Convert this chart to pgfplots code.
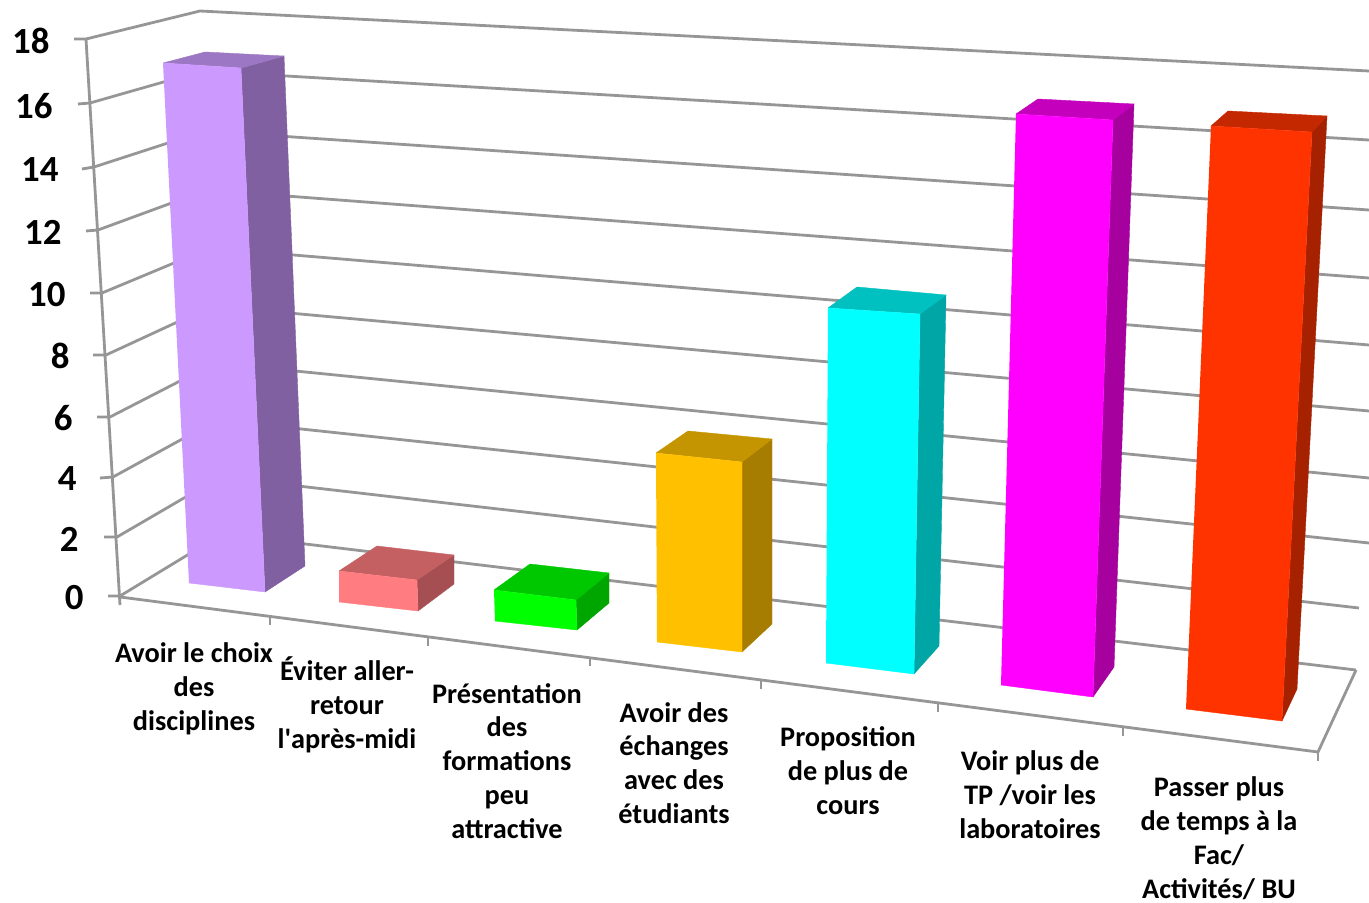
\documentclass[border=0pt]{standalone}
\usepackage{pgfplots}
\pgfplotsset{compat=1.18}
\usepackage{fontspec}
\setmainfont{Carlito}

\definecolor{grid}{HTML}{969696}
\definecolor{aside}{HTML}{8060A0}
\definecolor{atop}{HTML}{9C77C4}
\definecolor{afront}{HTML}{CC99FF}
\definecolor{bside}{HTML}{A54F52}
\definecolor{btop}{HTML}{C56062}
\definecolor{bfront}{HTML}{FF7C80}
\definecolor{cside}{HTML}{00A600}
\definecolor{ctop}{HTML}{00C800}
\definecolor{cfront}{HTML}{00FF00}
\definecolor{dside}{HTML}{A67D00}
\definecolor{dtop}{HTML}{C49500}
\definecolor{dfront}{HTML}{FFC000}
\definecolor{eside}{HTML}{00A6A6}
\definecolor{etop}{HTML}{00C0C0}
\definecolor{efront}{HTML}{00FFFF}
\definecolor{fside}{HTML}{A6009F}
\definecolor{ftop}{HTML}{C400BC}
\definecolor{ffront}{HTML}{FF00FF}
\definecolor{gside}{HTML}{A62100}
\definecolor{gtop}{HTML}{C42800}
\definecolor{gfront}{HTML}{FF3300}

% one flat polygon of the perspective drawing, in picture pixels
\newcommand{\face}[2]{\addplot[fill=#1,draw=#1,line width=0.2bp] coordinates {#2};}
\newcommand{\gline}[1]{\addplot[color=grid,line width=1.4bp] coordinates {#1};}
\newcommand{\ylab}[3]{\node[anchor=east,font=\fontsize{18.5}{20}\selectfont\bfseries,inner sep=0pt] at (axis cs:#1,#2) {#3};}
\newcommand{\xlab}[3]{\node[anchor=center,align=center,font=\fontsize{14.2}{17}\selectfont\bfseries,inner sep=0pt] at (axis cs:#1,#2) {#3};}

\begin{document}
\begin{tikzpicture}
\begin{axis}[
    scale only axis,
    width=684.5bp, height=451.5bp,
    xmin=0, xmax=1369, ymin=0, ymax=903,
    y dir=reverse,
    hide axis
]

% keeps the whole frame in the bounding box
\path (axis cs:0,0) rectangle (axis cs:1369,903);

% gridlines: tick, left wall, back wall
\gline{(74,39)(86,39)(200,11)(1369,71)}
\gline{(78,104)(90,103)(202,71)(1369,140)}
\gline{(82,169)(94,167)(205,131)(1369,210)}
\gline{(86,231)(98,230)(207,190)(1369,278)}
\gline{(90,293)(102,293)(210,248)(1369,345)}
\gline{(93,355)(106,355)(212,306)(1369,411)}
\gline{(97,417)(110,417)(215,363)(1369,478)}
\gline{(100,478)(113,477)(217,420)(1369,543)}
\gline{(104,537)(117,537)(220,477)(1359,608)}
\gline{(108,596)(120,596)(222,534)(1356,670)}

% vertical axis, floor edges and x ticks
\gline{(86,39)(120,605)}
\gline{(120,597)(1318,752)(1356,670)}
\gline{(1318,752)(1318,761)}
\gline{(270,617)(270,625)}
\gline{(428,638)(428,646)}
\gline{(590,658)(590,666)}
\gline{(761,681)(761,689)}
\gline{(938,704)(938,712)}
\gline{(1123,728)(1123,736)}

% bars: side, top, front
\face{aside}{(241,68)(284,56)(305,566)(265,592)}
\face{atop}{(163,63)(205,52)(284,56)(241,68)}
\face{afront}{(163,63)(241,68)(265,592)(189,583)}

\face{bside}{(417,580)(454,555)(454,584)(418,611)}
\face{btop}{(339,571)(377,546)(454,555)(417,580)}
\face{bfront}{(339,571)(417,580)(418,611)(339,602)}

\face{cside}{(576,600)(609,573)(609,603)(577,630)}
\face{ctop}{(494,590)(530,564)(609,573)(576,600)}
\face{cfront}{(494,590)(576,600)(577,630)(495,621)}

\face{dside}{(742,462)(772,439)(772,624)(742,652)}
\face{dtop}{(656,453)(688,431)(772,439)(742,462)}
\face{dfront}{(656,453)(742,462)(742,652)(657,642)}

\face{eside}{(920,314)(946,295)(939,646)(914,674)}
\face{etop}{(828,308)(857,287)(946,295)(920,314)}
\face{efront}{(828,308)(920,314)(914,674)(826,663)}

\face{fside}{(1113,120)(1134,104)(1114,667)(1093,697)}
\face{ftop}{(1016,114)(1038,99)(1134,104)(1113,120)}
\face{ffront}{(1016,114)(1113,120)(1093,697)(1001,685)}

\face{gside}{(1312,132)(1327,116)(1297,689)(1282,721)}
\face{gtop}{(1211,126)(1228,111)(1327,116)(1312,132)}
\face{gfront}{(1211,126)(1312,132)(1282,721)(1186,709)}

% value labels
\ylab{50}{41}{18}
\ylab{53}{106}{16}
\ylab{59}{170}{14}
\ylab{62}{232}{12}
\ylab{66}{295}{10}
\ylab{70}{356}{8}
\ylab{73}{418}{6}
\ylab{77}{479}{4}
\ylab{79}{539}{2}
\ylab{84}{598}{0}

% category labels
\xlab{194}{688.5}{Avoir le choix\\des\\disciplines}
\xlab{347}{705}{Éviter aller-\\retour\\l\textquotesingle après-midi}
\xlab{507}{761}{Présentation\\des\\formations\\peu\\attractive}
\xlab{674}{763}{Avoir des\\échanges\\avec des\\étudiants}
\xlab{848}{771}{Proposition\\de plus de\\cours}
\xlab{1030}{795}{Voir plus de\\TP /voir  les\\laboratoires}
\xlab{1219}{838}{Passer plus\\de temps à la\\Fac/\\Activités/ BU}

\end{axis}
\end{tikzpicture}
\end{document}
